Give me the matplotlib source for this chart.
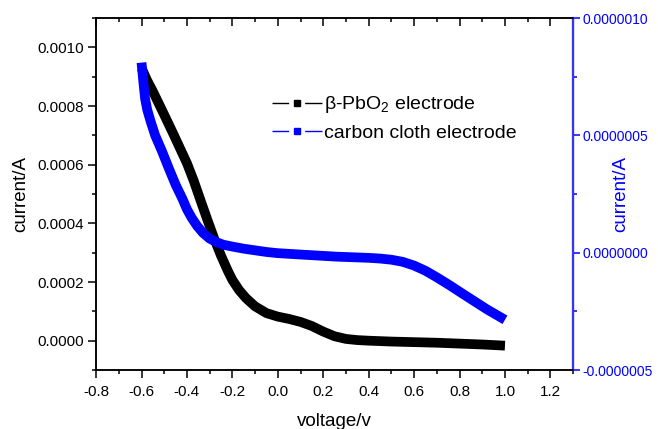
"""Linear sweep curves: beta-PbO2 electrode vs carbon cloth electrode (twin y axes)."""

import matplotlib
matplotlib.use("Agg")
import matplotlib.pyplot as plt
from matplotlib.lines import Line2D
from matplotlib.ticker import FormatStrFormatter, MultipleLocator

plt.rcParams["font.family"] = ["Liberation Sans", "DejaVu Sans"]
plt.rcParams["mathtext.fontset"] = "custom"
plt.rcParams["mathtext.rm"] = "Liberation Sans"
plt.rcParams["mathtext.it"] = "Liberation Sans:italic"
plt.rcParams["axes.unicode_minus"] = False

# ---------------------------------------------------------------------------
# Data
# ---------------------------------------------------------------------------

pbo2_voltage = [-0.60, -0.577, -0.55, -0.50, -0.46, -0.43, -0.40, -0.37,
                -0.34, -0.31, -0.28, -0.25, -0.22, -0.20, -0.17, -0.14,
                -0.10, -0.05, 0.00, 0.05, 0.10, 0.15, 0.20, 0.25, 0.30, 0.35,
                0.40, 0.50, 0.60, 0.70, 0.80, 0.90, 1.00]
pbo2_current = [0.00093, 0.00089, 0.00085, 0.00077, 0.000705, 0.000655,
                0.000605, 0.000545, 0.000478, 0.000412, 0.000348, 0.000290,
                0.000238, 0.000207, 0.000172, 0.000145, 0.000117, 0.000094,
                0.000082, 0.000074, 0.000064, 0.000050, 0.000031, 0.000015,
                0.000006, 0.000002, 0.000000, -0.000003, -0.000005,
                -0.000007, -0.000010, -0.000013, -0.000017]

carbon_voltage = [-0.600, -0.598, -0.594, -0.589, -0.584, -0.575, -0.56,
                  -0.54, -0.511, -0.48, -0.45, -0.42, -0.40, -0.38, -0.356,
                  -0.33, -0.30, -0.27, -0.24, -0.20, -0.15, -0.10, -0.05,
                  0.00, 0.084, 0.26, 0.40, 0.45, 0.50, 0.55, 0.60, 0.65,
                  0.70, 0.76, 0.817, 0.87, 0.92, 1.00]
carbon_current = [8.1e-7, 7.9e-7, 7.5e-7, 7.0e-7, 6.55e-7, 6.1e-7, 5.6e-7,
                  5.0e-7, 4.35e-7, 3.6e-7, 2.9e-7, 2.3e-7, 1.85e-7, 1.5e-7,
                  1.15e-7, 8.5e-8, 6.0e-8, 4.5e-8, 3.4e-8, 2.6e-8, 1.7e-8,
                  1.0e-8, 3e-9, -2e-9, -7e-9, -1.7e-8, -2.2e-8, -2.5e-8,
                  -3.0e-8, -3.9e-8, -5.5e-8, -7.7e-8, -1.05e-7, -1.41e-7,
                  -1.77e-7, -2.1e-7, -2.41e-7, -2.86e-7]

labels = ["β-PbO$_2$ electrode", "carbon cloth electrode"]

BLUE = "#0000ff"
SPINE_BLUE = "#3333ff"

# ---------------------------------------------------------------------------
# Plot
# ---------------------------------------------------------------------------

fig = plt.figure(figsize=(6.58, 4.29), dpi=100)
ax = fig.add_axes([0.146, 0.1375, 0.725, 0.8205])
ax2 = ax.twinx()

ax.plot(pbo2_voltage, pbo2_current, color="black", lw=7,
        solid_capstyle="butt", solid_joinstyle="round", zorder=2)
ax2.plot(carbon_voltage, carbon_current, color=BLUE, lw=7,
         solid_capstyle="butt", solid_joinstyle="round", zorder=3)

ax.set_xlim(-0.8, 1.3)
ax.set_ylim(-0.0001, 0.0011)
ax2.set_ylim(-5e-7, 1e-6)

ax.xaxis.set_major_locator(MultipleLocator(0.2))
ax.xaxis.set_minor_locator(MultipleLocator(0.1))
ax.xaxis.set_major_formatter(FormatStrFormatter("%.1f"))
ax.yaxis.set_major_locator(MultipleLocator(0.0002))
ax.yaxis.set_minor_locator(MultipleLocator(0.0001))
ax.yaxis.set_major_formatter(FormatStrFormatter("%.4f"))
ax2.yaxis.set_major_locator(MultipleLocator(5e-7))
ax2.yaxis.set_minor_locator(MultipleLocator(2.5e-7))
ax2.yaxis.set_major_formatter(FormatStrFormatter("%.7f"))

ax.tick_params(axis="x", which="both", direction="out", top=True,
               labelsize=11, width=1.1, pad=5)
ax.tick_params(axis="x", which="major", length=5.5)
ax.tick_params(axis="x", which="minor", length=3)
ax.tick_params(axis="y", which="both", direction="out", labelsize=11,
               width=1.1, pad=3)
ax.tick_params(axis="y", which="major", length=5.5)
ax.tick_params(axis="y", which="minor", length=3)
# top ticks point into the plot
for t in ax.xaxis.get_major_ticks() + ax.xaxis.get_minor_ticks():
    t.tick2line.set_marker(3)

ax2.tick_params(axis="y", which="both", direction="out", colors=BLUE,
                labelsize=10, width=1.1, pad=2)
ax2.tick_params(axis="y", which="major", length=5)
ax2.tick_params(axis="y", which="minor", length=3)

for side in ["left", "bottom", "top"]:
    ax.spines[side].set_linewidth(1.1)
    ax2.spines[side].set_linewidth(1.1)
ax2.spines["right"].set_color(SPINE_BLUE)
ax2.spines["right"].set_linewidth(1.6)

ax.set_xlabel("voltage/v", fontsize=13.5)
ax.xaxis.set_label_coords(0.5, -0.121)
ax.set_ylabel("current/A", fontsize=13.5)
ax.yaxis.set_label_coords(-0.140, 0.5)
ax2.set_ylabel("current/A", fontsize=13.5, color=BLUE)
ax2.yaxis.set_label_coords(1.083, 0.5)

handles = [
    Line2D([], [], color="black", lw=1, marker="s", markersize=4.3,
           dashes=(12, 11.5, 13, 0.1)),
    Line2D([], [], color=BLUE, lw=1, marker="s", markersize=4.3,
           dashes=(12, 11.5, 13, 0.1)),
]
fig.legend(handles, labels, loc="upper left", bbox_to_anchor=(0.413, 0.78),
           frameon=False, fontsize=14, handlelength=2.6, handletextpad=0.1,
           labelspacing=0.45, borderpad=0, borderaxespad=0)

fig.savefig("out.png", dpi=100)
